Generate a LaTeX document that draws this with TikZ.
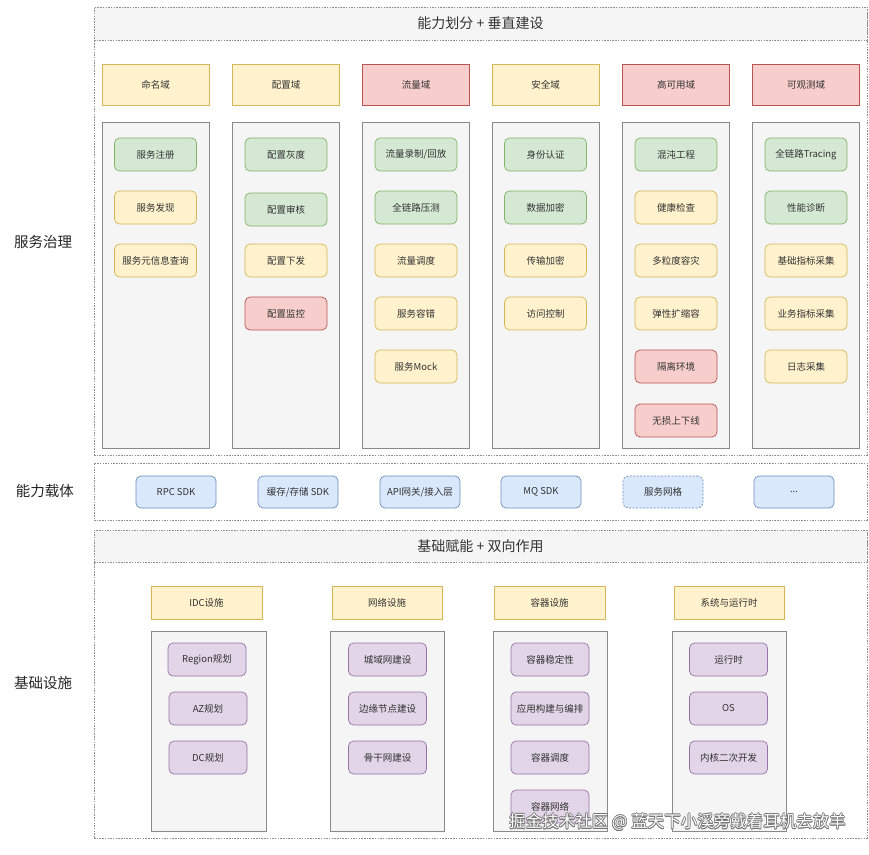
\documentclass[tikz,border=0pt]{standalone}
\usepackage{fontspec}
\setmainfont{Noto Sans CJK SC}
\definecolor{gfill}{HTML}{D5E8D4}\definecolor{gline}{HTML}{82B366}
\definecolor{yfill}{HTML}{FFF2CC}\definecolor{yline}{HTML}{D6B656}
\definecolor{rfill}{HTML}{F8CECC}\definecolor{rline}{HTML}{B85450}
\definecolor{bfill}{HTML}{DAE8FC}\definecolor{bline}{HTML}{6C8EBF}
\definecolor{pfill}{HTML}{E1D5E7}\definecolor{pline}{HTML}{9673A6}
\definecolor{cfill}{HTML}{F5F5F5}\definecolor{cline}{HTML}{8A8A8A}
\definecolor{txt}{HTML}{333333}
\definecolor{dline}{HTML}{8F8F8F}
\begin{document}
\begin{tikzpicture}[x=1pt,y=-1pt,
  every node/.style={inner sep=0pt, text=txt},
  item/.style={rounded corners=5pt, minimum width=82, minimum height=33, line width=0.7pt, font=\fontsize{9.5}{11}\selectfont},
  itemG/.style={item, fill=gfill, draw=gline},
  itemY/.style={item, fill=yfill, draw=yline},
  itemR/.style={item, fill=rfill, draw=rline},
  itemB/.style={item, fill=bfill, draw=bline, minimum width=80, minimum height=32},
  itemP/.style={item, fill=pfill, draw=pline, minimum width=78},
  hdr/.style={minimum width=107, minimum height=41, line width=0.7pt, font=\fontsize{9.5}{11}\selectfont},
  hdrY/.style={hdr, fill=yfill, draw=yline},
  hdrR/.style={hdr, fill=rfill, draw=rline},
  colbox/.style={fill=cfill, draw=cline, line width=0.8pt, minimum width=107, minimum height=326},
  dbox/.style={draw=dline, line width=0.8pt, dash pattern=on 1.5pt off 1.2pt},
  band/.style={dbox, fill=cfill, font=\fontsize{14}{16}\selectfont},
  side/.style={font=\fontsize{14.5}{16}\selectfont, text=black!85},
  wm/.style={font=\fontsize{16.5}{18}\selectfont}
]
\useasboundingbox (0,0) rectangle (869,854);
\fill[white] (0,0) rectangle (869,854);

% ===== top section =====
\node[dbox, minimum width=773, minimum height=448] (topouter) at (480.5,231) {};
\node[band, minimum width=773, minimum height=33] (topband) at (480.5,23.5) {能力划分 + 垂直建设};

\node[side] (lbl1) at (43,242) {服务治理};
\node[side] (lbl2) at (45,491) {能力载体};
\node[side] (lbl3) at (43,683) {基础设施};

% headers
\node[hdrY] (h1) at (155.5,84.5) {命名域};
\node[hdrY] (h2) at (286,84.5) {配置域};
\node[hdrR] (h3) at (416,84.5) {流量域};
\node[hdrY] (h4) at (545.5,84.5) {安全域};
\node[hdrR] (h5) at (676,84.5) {高可用域};
\node[hdrR] (h6) at (806,84.5) {可观测域};

% column containers
\node[colbox] (c1) at (155.5,285) {};
\node[colbox] (c2) at (286,285) {};
\node[colbox] (c3) at (416,285) {};
\node[colbox] (c4) at (545.5,285) {};
\node[colbox] (c5) at (676,285) {};
\node[colbox] (c6) at (806,285) {};

% column 1
\node[itemG] (a1) at (155.5,154.5) {服务注册};
\node[itemY] (a2) at (155.5,207.5) {服务发现};
\node[itemY] (a3) at (155.5,260.5) {服务元信息查询};
% column 2
\node[itemG] (b1) at (286,154.5) {配置灰度};
\node[itemG] (b2) at (286,209.5) {配置审核};
\node[itemY] (b3) at (286,260.5) {配置下发};
\node[itemR] (b4) at (286,313.5) {配置监控};
% column 3
\node[itemG] (d1) at (416,154.5) {流量录制/回放};
\node[itemG] (d2) at (416,207.5) {全链路压测};
\node[itemY] (d3) at (416,260.5) {流量调度};
\node[itemY] (d4) at (416,313.5) {服务容错};
\node[itemY] (d5) at (416,366.5) {服务Mock};
% column 4
\node[itemG] (e1) at (545.5,154.5) {身份认证};
\node[itemG] (e2) at (545.5,207.5) {数据加密};
\node[itemY] (e3) at (545.5,260.5) {传输加密};
\node[itemY] (e4) at (545.5,313.5) {访问控制};
% column 5
\node[itemG] (f1) at (676,154.5) {混沌工程};
\node[itemY] (f2) at (676,207.5) {健康检查};
\node[itemY] (f3) at (676,260.5) {多粒度容灾};
\node[itemY] (f4) at (676,313.5) {弹性扩缩容};
\node[itemR] (f5) at (676,366.5) {隔离环境};
\node[itemR] (f6) at (676,420.5) {无损上下线};
% column 6
\node[itemG] (g1) at (806,154.5) {全链路Tracing};
\node[itemG] (g2) at (806,207.5) {性能诊断};
\node[itemY] (g3) at (806,260.5) {基础指标采集};
\node[itemY] (g4) at (806,313.5) {业务指标采集};
\node[itemY] (g5) at (806,366.5) {日志采集};

% ===== middle band =====
\node[dbox, minimum width=773, minimum height=57] (midouter) at (480.5,491.5) {};
\node[itemB] (m1) at (176,492) {RPC SDK};
\node[itemB] (m2) at (298,492) {缓存/存储 SDK};
\node[itemB] (m3) at (420,492) {API网关/接入层};
\node[itemB] (m4) at (541,492) {MQ SDK};
\node[itemB, dash pattern=on 2pt off 1.5pt] (m5) at (663,492) {服务网格};
\node[itemB] (m6) at (794,492) {...};

% ===== bottom section =====
\node[dbox, minimum width=773, minimum height=308] (botouter) at (480.5,684) {};
\node[band, minimum width=773, minimum height=32] (botband) at (480.5,546) {基础赋能 + 双向作用};

\node[hdrY, minimum width=111, minimum height=33] (k1) at (206.5,602.5) {IDC设施};
\node[hdrY, minimum width=110, minimum height=33] (k2) at (387,602.5) {网络设施};
\node[hdrY, minimum width=111, minimum height=33] (k3) at (549.5,602.5) {容器设施};
\node[hdrY, minimum width=110, minimum height=33] (k4) at (729,602.5) {系统与运行时};

\node[colbox, minimum width=115, minimum height=200] (q1) at (208.5,731) {};
\node[colbox, minimum width=114, minimum height=200] (q2) at (387,731) {};
\node[colbox, minimum width=114, minimum height=200] (q3) at (550,731) {};
\node[colbox, minimum width=114, minimum height=200] (q4) at (729,731) {};

\node[itemP] (p1) at (207,659.5) {Region规划};
\node[itemP] (p2) at (208,708.5) {AZ规划};
\node[itemP] (p3) at (208,757.5) {DC规划};

\node[itemP] (r1) at (387.5,659.5) {城域网建设};
\node[itemP] (r2) at (387.5,708.5) {边缘节点建设};
\node[itemP] (r3) at (387.5,757.5) {骨干网建设};

\node[itemP] (s1) at (550,659.5) {容器稳定性};
\node[itemP] (s2) at (550,708.5) {应用构建与编排};
\node[itemP] (s3) at (550,757.5) {容器调度};
\node[itemP] (s4) at (550,806.5) {容器网络};

\node[itemP] (t1) at (728.5,659.5) {运行时};
\node[itemP] (t2) at (728.5,708.5) {OS};
\node[itemP] (t3) at (728.5,757.5) {内核二次开发};

% watermark
\foreach \dx/\dy in {-0.7/0,0.7/0,0/-0.7,0/0.7,-0.5/-0.5,0.5/0.5,-0.5/0.5,0.5/-0.5}
  \node[wm, text=black!55] at (677.5+\dx,822+\dy) {掘金技术社区 @ 蓝天下小溪旁戴着耳机去放羊};
\node[wm, text=white] (wmark) at (677.5,822) {掘金技术社区 @ 蓝天下小溪旁戴着耳机去放羊};
\end{tikzpicture}
\end{document}
